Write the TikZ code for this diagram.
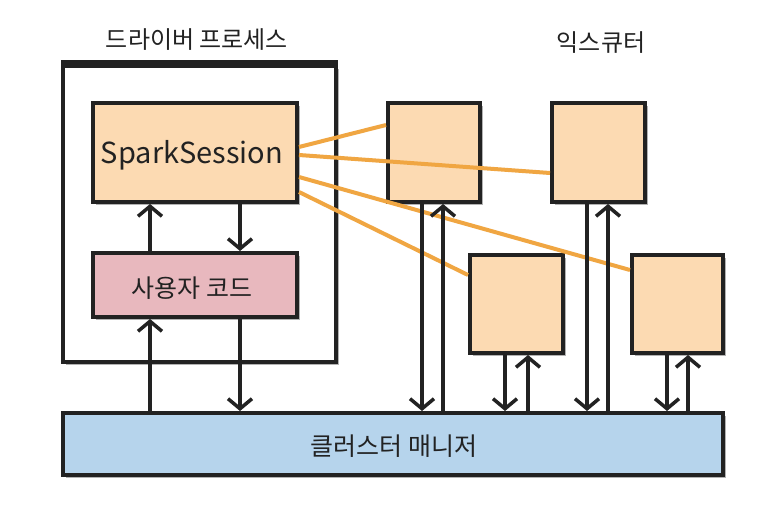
\documentclass[tikz,border=0pt]{standalone}
\usepackage{fontspec}
\setmainfont{Noto Sans CJK KR}
\usetikzlibrary{arrows.meta,shadows}
\definecolor{linec}{RGB}{34,34,34}
\definecolor{peach}{RGB}{252,218,178}
\definecolor{pinkc}{RGB}{232,184,190}
\definecolor{bluec}{RGB}{182,212,236}
\definecolor{orangec}{RGB}{240,166,66}
\begin{document}
\begin{tikzpicture}[x=1pt,y=-1pt,
  box/.style={draw=linec, line width=4pt, inner sep=0pt,
    drop shadow={shadow xshift=3pt,shadow yshift=-3pt,fill=black,opacity=0.3}},
  arr/.style={-{Straight Barb[length=10pt,width=24pt]}, line width=3.5pt, draw=linec},
  orl/.style={draw=orangec, line width=4pt},
  lbl/.style={text=linec, font=\fontsize{24}{28}\selectfont},
  lblb/.style={text=linec, font=\fontsize{25}{29}\selectfont}]
\useasboundingbox (0,0) rectangle (758,516);
\fill[white] (0,0) rectangle (758,516);
% titles
\node[lbl] (tdriver) at (197,40) {드라이버 프로세스};
\node[lbl] (texec) at (601,43) {익스큐터};
% driver process
\node[box, fill=white, minimum width=273pt, minimum height=296pt] (driver) at (199.5,214) {};
\draw[linec, line width=7pt] (driver.north west) -- (driver.north east);
\node[box, fill=peach, minimum width=204pt, minimum height=99pt] (spark) at (195,152.5) {};
% executors
\node[box, fill=peach, minimum width=92pt, minimum height=99pt] (e1) at (434,152.5) {};
\node[box, fill=peach, minimum width=93pt, minimum height=99pt] (e2) at (598.5,152.5) {};
\node[box, fill=peach, minimum width=93pt, minimum height=98pt] (e3) at (516.5,304) {};
\node[box, fill=peach, minimum width=91pt, minimum height=98pt] (e4) at (677.5,304) {};
% orange connections
\draw[orl] ([yshift=5.5pt]spark.east) -- ([yshift=27.5pt]e1.west);
\draw[orl] ([yshift=-2.5pt]spark.east) -- ([yshift=-20.5pt]e2.west);
\draw[orl] ([yshift=-24.5pt]spark.east) -- ([yshift=34pt]e4.west);
\draw[orl] ([yshift=-39.5pt]spark.east) -- ([yshift=29pt]e3.west);
\node[lbl, font=\fontsize{29}{33}\selectfont] (tspark) at (192,155) {SparkSession};
% user code and cluster manager
\node[box, fill=pinkc, minimum width=204pt, minimum height=64pt] (user) at (195,285) {};
\node[lblb] (tuser) at (192,288) {사용자 코드};
\node[box, fill=bluec, minimum width=660pt, minimum height=62pt] (cluster) at (393,444) {};
\node[lblb] (tcluster) at (394,446) {클러스터 매니저};
% driver arrows
\draw[arr] ([xshift=-45pt]user.north) -- ([xshift=-45pt]spark.south);
\draw[arr] ([xshift=45pt]spark.south) -- ([xshift=45pt]user.north);
\coordinate (uu) at ([xshift=-45pt]user.south);
\coordinate (ud) at ([xshift=45pt]user.south);
\draw[arr] (uu |- cluster.north) -- (uu);
\draw[arr] (ud) -- (ud |- cluster.north);
% executor arrows
\coordinate (e1d) at ([xshift=-12pt]e1.south);
\coordinate (e1u) at ([xshift=9pt]e1.south);
\coordinate (e2d) at ([xshift=-11.5pt]e2.south);
\coordinate (e2u) at ([xshift=9.5pt]e2.south);
\coordinate (e3d) at ([xshift=-11.5pt]e3.south);
\coordinate (e3u) at ([xshift=11.5pt]e3.south);
\coordinate (e4d) at ([xshift=-10.5pt]e4.south);
\coordinate (e4u) at ([xshift=10.5pt]e4.south);
\foreach \c in {e1d,e2d,e3d,e4d}{
  \draw[arr] (\c) -- (\c |- cluster.north);
}
\foreach \c in {e1u,e2u,e3u,e4u}{
  \draw[arr] (\c |- cluster.north) -- (\c);
}
\end{tikzpicture}
\end{document}
